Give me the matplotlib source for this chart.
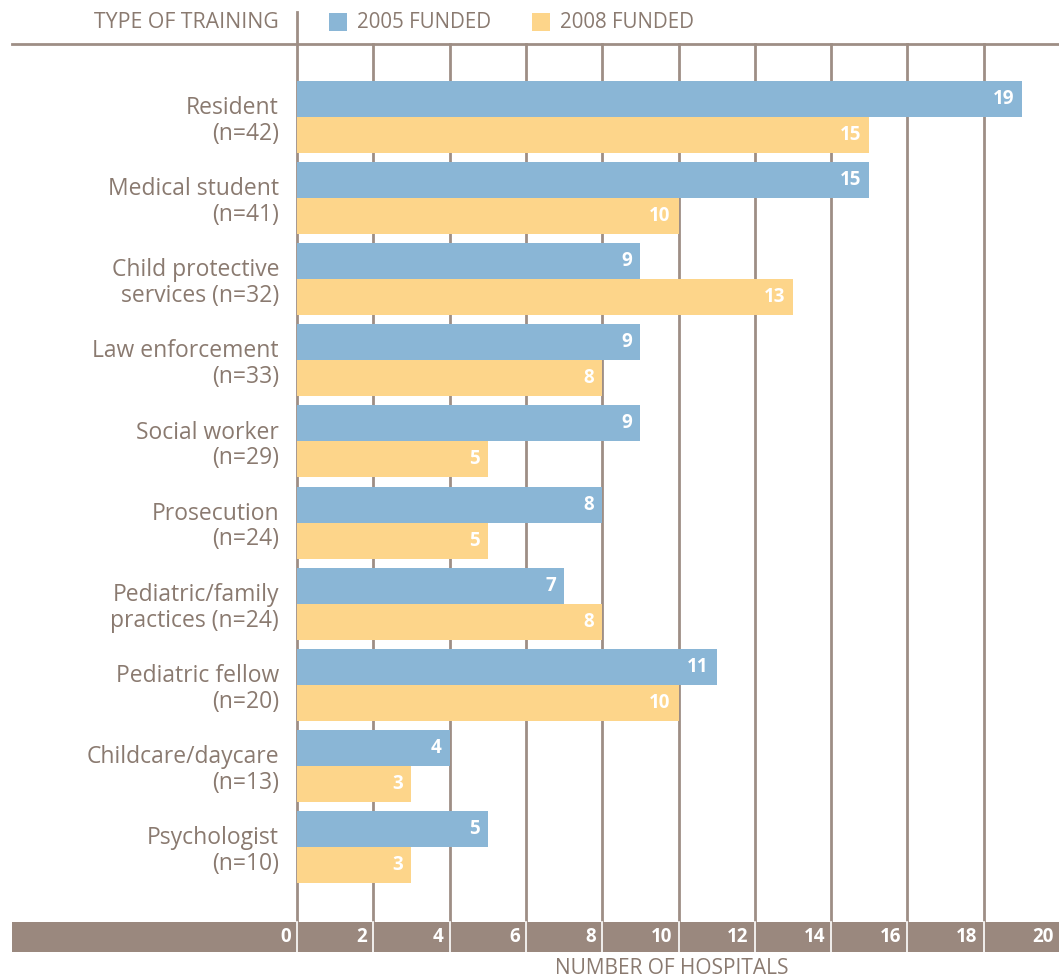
import matplotlib
matplotlib.use("Agg")
import matplotlib.pyplot as plt
from matplotlib.patches import Rectangle
from matplotlib import transforms

plt.rcParams['font.family'] = ['Open Sans', 'DejaVu Sans']

categories = ["Resident\n(n=42)", "Medical student\n(n=41)", "Child protective\nservices (n=32)",
              "Law enforcement\n(n=33)", "Social worker\n(n=29)", "Prosecution\n(n=24)",
              "Pediatric/family\npractices (n=24)", "Pediatric fellow\n(n=20)",
              "Childcare/daycare\n(n=13)", "Psychologist\n(n=10)"]
funded_2005 = [19, 15, 9, 9, 9, 8, 7, 11, 4, 5]
funded_2008 = [15, 10, 13, 8, 5, 5, 8, 10, 3, 3]
xticks = [0, 2, 4, 6, 8, 10, 12, 14, 16, 18, 20]
series_labels = ["2005 FUNDED", "2008 FUNDED"]

BLUE = "#8AB6D6"
YELLOW = "#FDD58A"
TXT = "#8A7A70"
LINE = "#9E8E85"
BAND = "#9A887E"

W, H = 1059, 980
PX = 38.15
fig = plt.figure(figsize=(W / 100, H / 100), dpi=100)
ax_l, ax_r, ax_t, ax_b = 297, 1059, 44, 922
ax = fig.add_axes([ax_l / W, (H - ax_b) / H, (ax_r - ax_l) / W, (ax_b - ax_t) / H])
xmax = (ax_r - ax_l) / PX
ax.set_xlim(0, xmax)
ax.set_ylim(9.925, -0.90)
ax.axis("off")

h = 0.444
n = len(categories)
ys = list(range(n))
ax.barh([y - h for y in ys], funded_2005, height=h, align="edge", color=BLUE, zorder=3)
ax.barh(ys, funded_2008, height=h, align="edge", color=YELLOW, zorder=3)

pad = transforms.offset_copy(ax.transData, fig=fig, x=-8, y=0, units="dots")
for y, v in zip(ys, funded_2005):
    ax.text(v, y - h / 2, str(v), transform=pad, ha="right", va="center",
            color="white", fontsize=13.5, fontweight="bold", zorder=4)
for y, v in zip(ys, funded_2008):
    ax.text(v, y + h / 2, str(v), transform=pad, ha="right", va="center",
            color="white", fontsize=13.5, fontweight="bold", zorder=4)

lab = transforms.offset_copy(ax.transData, fig=fig, x=-18, y=0, units="dots")
for y, c in zip(ys, categories):
    ax.text(0, y + 0.05, c, transform=lab, ha="right", va="center", multialignment="right",
            color=TXT, fontsize=16.5, linespacing=1.1)

xt = ax.get_xaxis_transform()
# gridlines
for t in xticks[1:]:
    ax.plot([t, t], [0, 1], transform=xt, color=LINE, lw=2, zorder=1, clip_on=False)
# zero line extending up to top
ax.plot([0, 0], [0, (ax_b - 12) / (ax_b - ax_t)], transform=xt, color=LINE, lw=2,
        zorder=1, clip_on=False)
# header line
xleft = (12 - ax_l) / PX
ax.plot([xleft, xmax], [1, 1], transform=xt, color=LINE, lw=2, zorder=2, clip_on=False)

# bottom band
band_h = 30 / (ax_b - ax_t)
ax.add_patch(Rectangle((xleft, -band_h), xmax - xleft, band_h, transform=xt,
                       facecolor=BAND, edgecolor="none", clip_on=False, zorder=2))
for t in xticks:
    ax.plot([t, t], [-band_h, 0], transform=xt, color="white", lw=1.2, zorder=3, clip_on=False)
tpad = transforms.offset_copy(xt, fig=fig, x=-6, y=0, units="dots")
for t in xticks:
    ax.text(t, -band_h / 2, str(t), transform=tpad, ha="right", va="center",
            color="white", fontsize=13.5, fontweight="bold", zorder=4, clip_on=False)

# header texts
def fx(px):
    return px / W
def fy(py):
    return 1 - py / H

fig.text(fx(279), fy(23), "TYPE OF TRAINING", ha="right", va="center", color=TXT, fontsize=15.3)
for sx, col, lbl in [(329, BLUE, series_labels[0]), (532, YELLOW, series_labels[1])]:
    fig.patches.append(Rectangle((fx(sx), fy(31)), 18 / W, 18 / H, transform=fig.transFigure,
                                 facecolor=col, edgecolor="none"))
    fig.text(fx(sx + 28), fy(23), lbl, ha="left", va="center", color=TXT, fontsize=14.8)

fig.text(fx(672), fy(968), "NUMBER OF HOSPITALS", ha="center", va="center", color=TXT, fontsize=15)

fig.savefig("out.png", dpi=100, facecolor="white")
